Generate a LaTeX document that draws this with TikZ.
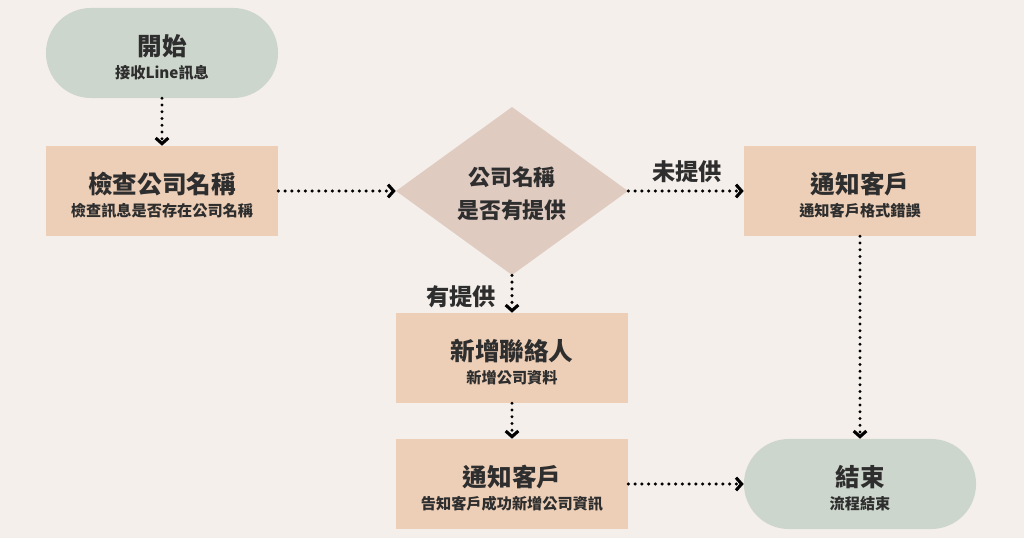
\documentclass[tikz,border=0pt]{standalone}
\usepackage{fontspec}
\setmainfont{Noto Sans CJK TC}
\usetikzlibrary{arrows.meta,shapes.geometric}
\definecolor{paper}{HTML}{F4EFEA}
\definecolor{sage}{HTML}{CDD6CC}
\definecolor{peach}{HTML}{EDCFB8}
\definecolor{rose}{HTML}{E0CBC1}
\definecolor{ink}{HTML}{2E2E2E}
\newcommand{\boxtext}[2]{{\fontsize{17.5}{20}\selectfont\bfseries\rule{0pt}{21pt}#1}\\[4.7pt]{\fontsize{10.8}{12}\selectfont\bfseries #2}}

\begin{document}
\begin{tikzpicture}[x=0.025cm,y=-0.025cm,
 every node/.style={text=ink,align=center,inner sep=0pt},
 pill/.style={fill=sage,rounded corners=1.12cm,minimum width=5.8cm,minimum height=2.25cm},
 stepbox/.style={fill=peach,minimum width=5.8cm,minimum height=2.25cm},
 ask/.style={diamond,fill=rose,minimum width=5.8cm,minimum height=4.1cm,
  font=\fontsize{15.5}{20}\selectfont\bfseries},
 flow/.style={line width=2.4pt,dash pattern=on 0pt off 4.8pt,line cap=round,
  -{Straight Barb[length=4pt,width=9pt,line width=2.2pt]}},
 tag/.style={font=\fontsize{16.5}{18}\selectfont\bfseries}]
\fill[paper] (0,0) rectangle (1024,538);
\useasboundingbox (0,0) rectangle (1024,538);
\node[pill] (start) at (162,53) {\boxtext{開始}{接收Line訊息}};
\node[stepbox] (check) at (162,191) {\boxtext{檢查公司名稱}{檢查訊息是否存在公司名稱}};
\node[ask] (query) at (512,191) {\rule{0pt}{17pt}公司名稱\\[3.5pt]是否有提供};
\node[stepbox] (warn) at (860,191) {\boxtext{通知客戶}{通知客戶格式錯誤}};
\node[stepbox] (add) at (512,358) {\boxtext{新增聯絡人}{新增公司資料}};
\node[stepbox] (notify) at (512,484) {\boxtext{通知客戶}{告知客戶成功新增公司資訊}};
\node[pill] (finish) at (860,484) {\boxtext{結束}{流程結束}};
\foreach \a/\b in {start.south/check.north,check.east/query.west,query.east/warn.west,
 query.south/add.north,add.south/notify.north,notify.east/finish.west,warn.south/finish.north}
 \draw[flow] (\a) -- (\b);
\node[tag] (no) at (687,172) {未提供};
\node[tag] (yes) at (461,297) {有提供};
\end{tikzpicture}
\end{document}
